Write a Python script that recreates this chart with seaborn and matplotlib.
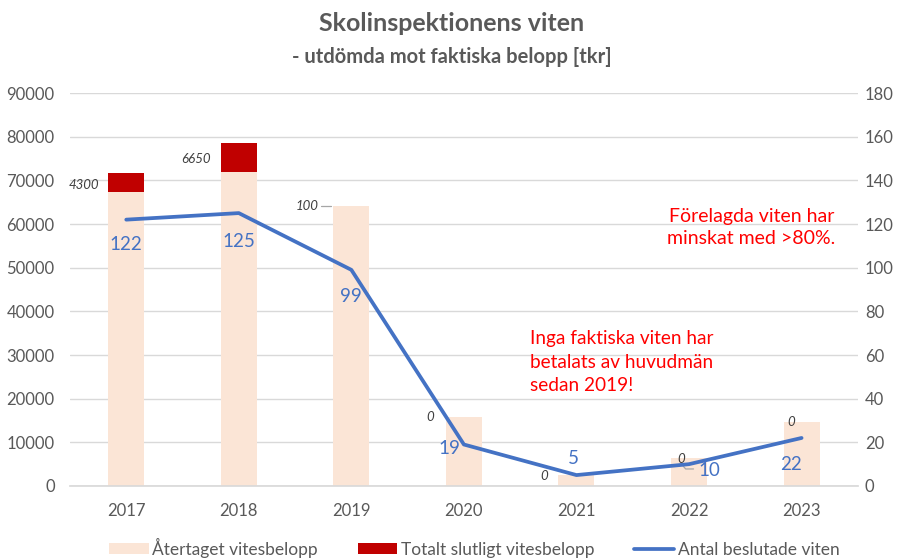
import numpy as np
import pandas as pd
import matplotlib
matplotlib.use("Agg")
import matplotlib.pyplot as plt
import seaborn as sns
from matplotlib.patches import Patch
from matplotlib.lines import Line2D

years = ["2017", "2018", "2019", "2020", "2021", "2022", "2023"]
recovered = [67300, 71800, 64100, 15800, 2600, 6300, 14700]   # Återtaget vitesbelopp
final_total = [4300, 6650, 100, 0, 0, 0, 0]                   # Totalt slutligt vitesbelopp
decisions = [122, 125, 99, 19, 5, 10, 22]                     # Antal beslutade viten

sns.set_theme(style="white")
plt.rcParams['font.family'] = ['Lato', 'DejaVu Sans']

df = pd.DataFrame({"year": years, "recovered": recovered, "final": final_total,
                   "decisions": decisions})
df["total"] = df["recovered"] + df["final"]
df["pos"] = np.arange(len(years))

fig = plt.figure(figsize=(9.03, 5.59), dpi=100)
ax = fig.add_axes([0.0775, 0.1306, 0.8725, 0.703])

peach = "#FBE5D6"
red = "#C00000"
blue = "#4472C4"
gray = "#595959"

sns.barplot(data=df, x="year", y="total", color=red, width=0.32, ax=ax,
            saturation=1, linewidth=0)
sns.barplot(data=df, x="year", y="recovered", color=peach, width=0.32, ax=ax,
            saturation=1, linewidth=0)

ax.set_ylim(0, 90000)
ax.set_yticks(np.arange(0, 90001, 10000))
ax.set_xlim(-0.5, len(years) - 0.5)
ax.grid(axis="y", color="#D9D9D9", linewidth=1)
ax.set_axisbelow(True)
for s in ["top", "right", "left"]:
    ax.spines[s].set_visible(False)
ax.spines["bottom"].set_color("#D9D9D9")
ax.set_xlabel("")
ax.set_ylabel("")
ax.tick_params(axis="both", colors=gray, labelsize=12, length=0)
ax.tick_params(axis="x", pad=12)
ax.tick_params(axis="y", pad=11)

ax2 = ax.twinx()
sns.lineplot(data=df, x="pos", y="decisions", color=blue, linewidth=2.7, ax=ax2)
ax2.set_ylim(0, 180)
ax2.set_yticks(np.arange(0, 181, 20))
ax2.set_ylabel("")
ax2.set_xlabel("")
for s in ["top", "right", "left", "bottom"]:
    ax2.spines[s].set_visible(False)
ax2.tick_params(axis="y", colors=gray, labelsize=12, length=0, pad=5)
ax2.set_xlim(-0.5, len(years) - 0.5)

# line labels (value position relative to point)
line_lab = [(0, 110.4), (0, 112.2), (0, 86.6), (-0.13, 17.4), (-0.03, 12.8),
            (0.18, 7.3), (-0.09, 10.0)]
for i, (v, (dx, y)) in enumerate(zip(decisions, line_lab)):
    ax2.text(i + dx, y, str(v), color=blue, fontsize=13.5, ha="center", va="center")

# bar labels for final amounts
lab_pos = [(-0.24, 69000, "right"), (-0.25, 75000, "right"), (-0.29, 64200, "right"),
           (-0.3, 15700, "center"), (-0.29, 2300, "center"), (-0.07, 6200, "center"),
           (-0.09, 14600, "center")]
for i, (v, (dx, y, ha)) in enumerate(zip(final_total, lab_pos)):
    ax.text(i + dx, y, str(v), color="#404040", fontsize=9.5,
            style="italic", ha=ha, va="center")
# leader lines
ax.plot([2 - 0.27, 2 - 0.18], [64200, 64200], color="#A6A6A6", linewidth=0.9)
ax.plot([4.93, 4.97, 5.04], [5100, 3900, 3900], color="#A6A6A6", linewidth=0.9)

fig.text(0.5, 0.958, "Skolinspektionens viten", ha="center", va="center",
         fontsize=18, fontweight="bold", color=gray)
fig.text(0.5, 0.898, "- utdömda mot faktiska belopp [tkr]", ha="center", va="center",
         fontsize=14.5, fontweight="bold", color=gray)

fig.text(0.832, 0.593, "Förelagda viten har\nminskat med >80%.", ha="center", va="center",
         fontsize=14, color="#FF0000", linespacing=1.4)
fig.text(0.587, 0.352, "Inga faktiska viten har\nbetalats av huvudmän\nsedan 2019!", ha="left",
         va="center", fontsize=13.7, color="#FF0000", linespacing=1.45)

handles = [Patch(facecolor=peach, edgecolor="none"),
           Patch(facecolor=red, edgecolor="none"),
           Line2D([0], [0], color=blue, linewidth=2.7)]
labels = ["Återtaget vitesbelopp", "Totalt slutligt vitesbelopp", "Antal beslutade viten"]
leg = fig.legend(handles, labels, loc="center", bbox_to_anchor=(0.525, 0.02), ncol=3,
                 frameon=False, fontsize=12.5, handlelength=2.3, handletextpad=0.2,
                 columnspacing=2.3, handleheight=0.6)
for t in leg.get_texts():
    t.set_color(gray)

fig.savefig("out.png", dpi=100)
